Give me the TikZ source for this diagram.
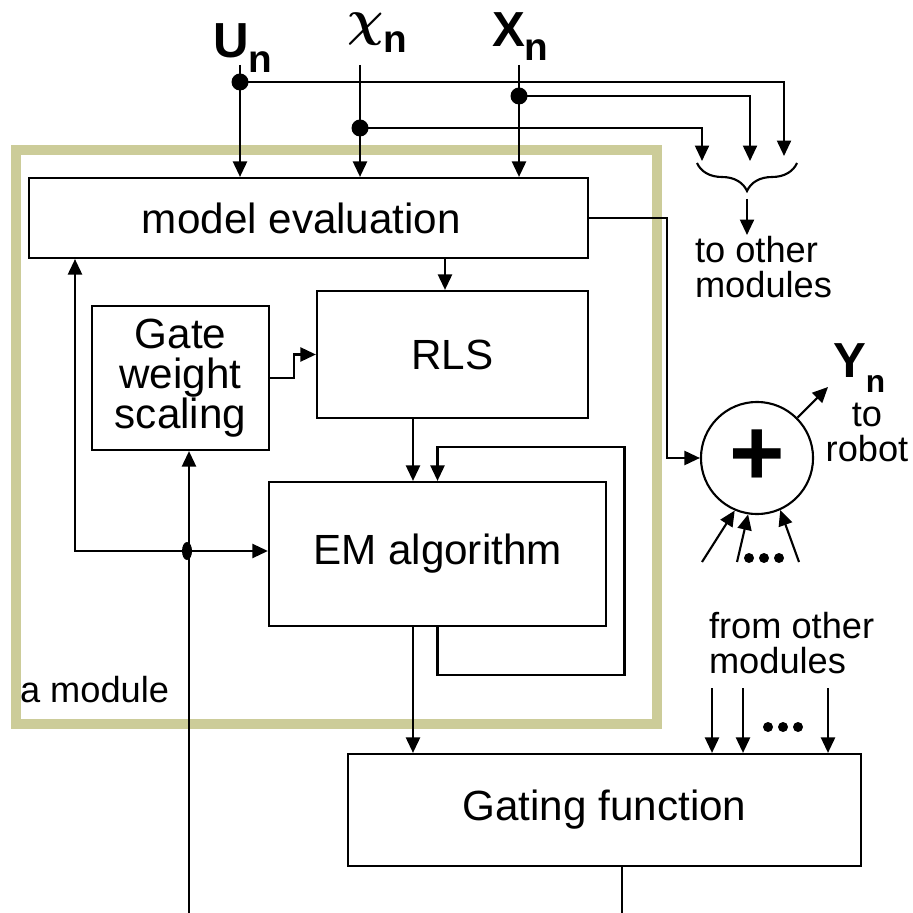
\documentclass[tikz,border=0pt]{standalone}
\usepackage{amsmath}
\usepackage{fontspec}
\setmainfont{Liberation Sans}
\usetikzlibrary{arrows.meta,shapes.geometric,decorations.pathreplacing}

\definecolor{modcol}{RGB}{204,204,153}
\newcommand{\boxfont}{\fontsize{12}{11.3}\selectfont}
\newcommand{\smallfont}{\fontsize{10.3}{10}\selectfont}
\newcommand{\subfont}{\fontsize{11}{11}\selectfont\bfseries}

\tikzset{
  blk/.style={draw, inner sep=0pt, font=\boxfont, align=center},
  arr/.style={-{Triangle[length=4.4pt,width=4pt]}},
  jdot/.style={circle, fill, inner sep=0pt, minimum size=0.17cm},
  sig/.style={font=\fontsize{14}{14}\selectfont\bfseries, inner sep=0pt, anchor=base west},
  lbl/.style={font=\smallfont, inner sep=0pt, align=left},
}

\begin{document}
\begin{tikzpicture}[x=0.01cm, y=-0.01cm, line width=0.6pt]
\useasboundingbox (0,0) rectangle (913,913);
%
% the module frame
\node[draw=modcol, line width=3pt, minimum width=6.41cm, minimum height=5.74cm] (frame) at (336.5,437) {};
\node[lbl, anchor=west] (modlbl) at (19,690) {a module};
%
% blocks
\node[blk, minimum width=5.59cm, minimum height=0.80cm] (meval) at (308.5,218) {\hspace*{-0.14cm}model evaluation};
\node[blk, minimum width=2.71cm, minimum height=1.27cm] (rls) at (452.5,354.5) {RLS};
\node[blk, minimum width=1.77cm, minimum height=1.44cm] (gws) at (180.5,378) {Gate\\weight\\scaling};
\node[blk, minimum width=3.37cm, minimum height=1.44cm] (em) at (437.5,554) {EM algorithm};
\node[blk, minimum width=5.13cm, minimum height=1.12cm] (gating) at (604.5,810) {Gating function};
\node[draw, circle, minimum size=1.12cm, inner sep=0pt, font=\fontsize{27}{27}\selectfont\bfseries] (sum) at (757,458) {\raisebox{-0.09cm}{+}};
%
% input signals
\node[sig] (un) at (212,58) {U\raisebox{-4pt}{\subfont n}};
\node[sig] (chin) at (346,36) {{\fontsize{15}{15}\selectfont$\boldsymbol{\chi}$}\raisebox{-4.8pt}{\subfont n}};
\node[sig] (xn) at (491,47) {X\raisebox{-3.7pt}{\subfont n}};
\coordinate (utop) at (240,65);
\coordinate (ctop) at (360,65);
\coordinate (xtop) at (519,65);
\draw[arr] (utop) -- (utop |- meval.north);
\draw[arr] (ctop) -- (ctop |- meval.north);
\draw[arr] (xtop) -- (xtop |- meval.north);
\node[jdot] (ud) at (240,82) {};
\node[jdot] (cd) at (360,128) {};
\node[jdot] (xd) at (519,96) {};
%
% copies to the other modules
\coordinate (to1) at (702,161);
\coordinate (to2) at (750,161);
\coordinate (to3) at (784,156);
\draw[arr] (ud.center) -| (to3);
\draw[arr] (xd.center) -| (to2);
\draw[arr] (cd.center) -| (to1);
\coordinate (brl) at (697,163);
\coordinate (brr) at (797,163);
\draw[decorate, decoration={brace, amplitude=0.28cm, mirror}] (brl) -- (brr);
\coordinate (brtip) at (747,199);
\node[lbl, anchor=north west] (toother) at (694,235) {to other\\modules};
\draw[arr] (brtip) -- (brtip |- toother.north);
%
% inside the module
\coordinate (rlsin) at ([xshift=-0.075cm]rls.north);
\draw[arr] (rlsin |- meval.south) -- (rlsin);
\draw[arr] (gws.east) -- ++(24,0) |- (rls.west);
\coordinate (emin) at ([xshift=-0.245cm]em.north);
\draw[arr] (emin |- rls.south) -- (emin);
\draw[arr] (em.south) -- ++(0,48) -| ++(187,-228) -| (em.north);
\coordinate (emout) at ([xshift=-0.245cm]em.south);
\draw[arr] (emout) -- (emout |- gating.north);
%
% gate input from below
\coordinate (vin) at (189,913);
\draw[arr] (vin) -- (vin |- gws.south);
\node[ellipse, fill, inner sep=0pt, minimum width=0.1cm, minimum height=0.18cm] (jd) at (187,551) {};
\coordinate (jl) at (75,551);
\draw[arr] (jd.center) -- (jd.center -| em.west);
\draw[arr] (jd.center) -- (jl) -- (jl |- meval.south);
%
% output of the module
\draw[arr] (meval.east) -- ++(78,0) |- (sum.west);
\coordinate (yend) at (828,387);
\draw[arr] (sum.45) -- (yend);
\node[sig] (yn) at (832,378) {Y\raisebox{-4.2pt}{\fontsize{9}{9}\selectfont\bfseries n}};
\node[lbl, align=center, anchor=north] (torobot) at (867,402) {to\\robot};
\coordinate (s1) at (702,562);
\coordinate (s2) at (737,562);
\coordinate (s3) at (799,562);
\draw[arr] (s1) -- (sum.247);
\draw[arr] (s2) -- (sum.261);
\draw[arr] (s3) -- (sum.294);
\foreach \x in {749,764,779} \fill (\x,558) circle[radius=0.05cm];
%
% gating function
\node[lbl, anchor=north west] (fromother) at (708,611) {from other\\modules};
\foreach \x [count=\i] in {712,743,828} {
  \coordinate (f\i) at (\x,688);
  \draw[arr] (f\i) -- (f\i |- gating.north);
}
\foreach \x in {768,783,798} \fill (\x,727) circle[radius=0.05cm];
\coordinate (gout) at (622,913);
\draw (gout |- gating.south) -- (gout);
\end{tikzpicture}
\end{document}
